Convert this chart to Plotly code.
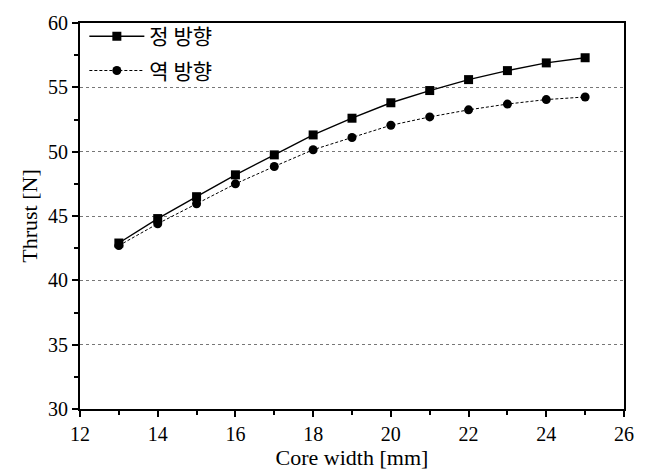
import plotly.graph_objects as go

# Core width [mm]
core_width = [13, 14, 15, 16, 17, 18, 19, 20, 21, 22, 23, 24, 25]
# Thrust [N] for forward (정 방향) and reverse (역 방향) direction
thrust_forward = [42.9, 44.8, 46.5, 48.2, 49.75, 51.3, 52.6, 53.8, 54.75, 55.6, 56.3, 56.9, 57.3]
thrust_reverse = [42.7, 44.4, 45.95, 47.5, 48.85, 50.15, 51.1, 52.05, 52.7, 53.25, 53.7, 54.05, 54.25]

x_ticks = [12, 14, 16, 18, 20, 22, 24, 26]
y_ticks = [30, 35, 40, 45, 50, 55, 60]

serif = "Liberation Serif, Times New Roman, serif"
kr = "Noto Sans CJK KR, sans-serif"

fig = go.Figure()
fig.add_trace(go.Scatter(
    x=core_width, y=thrust_forward, name="정 방향", mode="lines+markers",
    legendgroup="fwd",
    line=dict(color="black", width=1.4),
    marker=dict(symbol="square", size=9, color="black"),
))
fig.add_trace(go.Scatter(
    x=core_width, y=thrust_reverse, name="역 방향", mode="lines+markers",
    legendgroup="rev",
    line=dict(color="black", width=1, dash="3px,2px"),
    marker=dict(symbol="circle", size=9, color="black"),
))

axis_common = dict(
    showline=True, linecolor="black", linewidth=1.8, mirror=True,
    ticks="outside", ticklen=6, tickwidth=1.5, tickcolor="black",
    tickfont=dict(family=serif, size=20, color="black"),
    zeroline=False,
)

fig.update_xaxes(
    range=[12, 26], tickvals=x_ticks, showgrid=False,
    minor=dict(dtick=1, ticks="outside", ticklen=4, tickcolor="black", showgrid=False),
    title=dict(text="Core width [mm]", font=dict(family=serif, size=22, color="black"), standoff=2),
    **axis_common,
)
fig.update_yaxes(
    range=[30, 60], tickvals=y_ticks,
    showgrid=True, gridcolor="#777777", griddash="dot", gridwidth=1,
    minor=dict(dtick=2.5, ticks="outside", ticklen=4, tickcolor="black", showgrid=False),
    title=dict(text="Thrust [N]", font=dict(family=serif, size=22, color="black"), standoff=4),
    **axis_common,
)

fig.update_layout(
    width=652, height=475,
    margin=dict(l=80, r=28, t=17, b=66),
    plot_bgcolor="white", paper_bgcolor="white",
    showlegend=True,
    legend=dict(
        x=0.008, y=1.018, xanchor="left", yanchor="top",
        bgcolor="rgba(0,0,0,0)", borderwidth=0,
        font=dict(family=kr, size=21, color="black"),
        itemwidth=55, traceorder="grouped", tracegroupgap=4,
    ),
)

fig.write_html("out.html")
